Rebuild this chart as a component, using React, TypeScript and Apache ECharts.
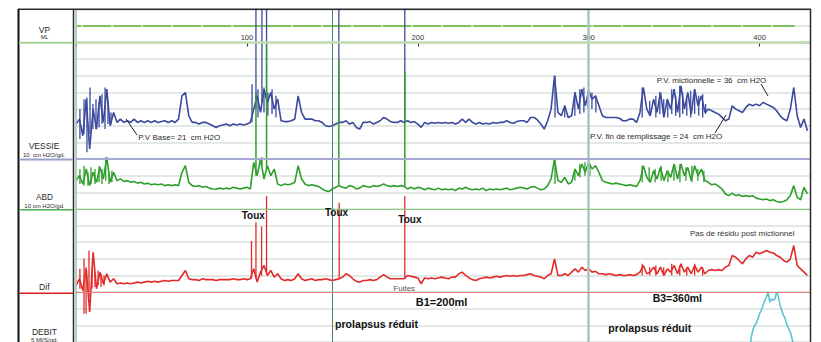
import React, { useEffect, useRef } from 'react';
import * as echarts from 'echarts';

// ---- data ----
const SAMPLE_STEP = 2; // seconds between samples of the pressure traces

// Pression vésicale (cm H2O), one value every 2 units from 0 to 428
const vessie = [
  21, 24, 14, 36, 6, 30, 18, 38, 22, 42,
  20, 28, 22, 24, 22, 23, 22, 24, 22, 23,
  22, 23, 22, 23, 22, 22.5, 23, 22, 23, 22,
  24, 38, 40, 26, 22, 22, 21, 22, 22, 21,
  20, 19, 20, 20.5, 21, 20, 21, 20.5, 21, 20.5,
  21, 22, 30, 38, 28, 42, 34, 40, 30, 36,
  23, 22.5, 22.5, 23, 24, 38, 28, 24, 24, 24,
  23, 23, 22, 20, 19.5, 20, 21, 22, 22, 23,
  21, 22, 19, 18, 22, 22, 22.5, 21, 22, 23,
  25, 24, 22.5, 22, 22, 23, 22, 23, 22, 22.5,
  21, 19, 22, 21, 22, 21.5, 22, 21.5, 22, 21.5,
  22, 21, 22, 24, 22, 24, 22, 21, 22, 21,
  21.5, 21, 22, 21.5, 22, 22, 23, 22, 21.5, 22.5,
  23, 23, 22, 25, 25, 23.5, 21, 18, 23, 30,
  50, 28, 26, 32, 25, 26, 40, 30, 42, 32,
  41, 36, 38, 32, 26, 25, 25, 25, 25, 24.5,
  23, 23, 24, 24, 22, 28, 43, 30, 26, 36,
  28, 40, 25, 36, 30, 42, 28, 44, 30, 40,
  27, 42, 32, 38, 28, 30, 29, 28, 27, 25,
  23, 24, 32, 30, 29, 28, 31, 33, 32, 33,
  32, 34, 33, 32, 31, 29, 26, 24, 23, 30,
  43, 26, 19, 24, 17,
];

// Pression abdominale (cm H2O)
const abd = [
  17, 20, 15, 24, 14, 22, 16, 25, 18, 31,
  16, 22, 17, 18, 16.5, 17, 16, 16.5, 15.5, 16,
  15, 15.5, 14.5, 15, 14.5, 15, 14, 14.5, 14, 14.5,
  14, 22, 26, 16, 14, 13.5, 14, 13, 13.5, 12.5,
  12, 11.8, 12.5, 12, 12.5, 12, 13, 12.5, 12, 12.5,
  13, 12, 28, 20, 30, 18, 26, 20, 24, 15,
  14, 15, 14.5, 15, 16, 26, 18, 15, 14, 14.5,
  14, 13.5, 12, 11, 10.5, 12, 13, 14, 13, 12.5,
  14, 13.5, 12, 12.5, 14, 13.5, 13, 14, 13.5, 14,
  15, 14, 13.5, 14, 13.5, 14, 13.5, 12, 13, 12,
  13, 12.5, 11.5, 12.5, 12, 11.5, 12.5, 11.5, 12, 11.5,
  12, 11, 12.5, 12, 13, 12, 11.5, 12, 11.5, 12.5,
  11, 12, 11.5, 12, 11.5, 12, 12.5, 11.5, 12, 12.5,
  13, 12.5, 12, 13, 13.5, 12.5, 11.5, 12, 14, 18,
  30, 17, 16, 19, 15, 16, 24, 20, 27, 22,
  28, 24, 26, 22, 17, 16, 15.5, 15, 15.5, 15,
  14.5, 14, 14.5, 14, 13.5, 17, 26, 19, 16, 23,
  18, 25, 17, 23, 19, 27, 18, 27, 20, 25,
  17, 26, 20, 24, 17, 16, 14.5, 15, 13.5, 12,
  9, 8, 9.5, 8, 8.5, 7.5, 8, 7.5, 8, 6.5,
  6, 5.5, 6, 5, 5.5, 4.5, 4, 4.5, 5.5, 8,
  14, 7, 5.5, 13, 9,
];

// Pression différentielle (cm H2O)
const dif = [
  4, 8, 1, 14, -12, 24, 2, 12, 5, 11,
  6, 8, 5, 5.5, 5, 5.5, 5, 5.5, 6, 5.5,
  6, 6.5, 6, 6.5, 6, 6.5, 7, 6.5, 7, 7,
  7, 10, 13, 8, 7.5, 7.5, 7, 8, 7.5, 7.5,
  7.5, 7, 7.5, 7.5, 7.5, 7.5, 8, 7.5, 7.5, 8,
  7.5, 8, 14, 6, 12, 16, 10, 13, 9, 11,
  8, 7, 7.5, 7, 8, 11, 8, 7, 7.5, 8,
  7, 7.5, 7.5, 8, 7.5, 7, 7.5, 8, 9, 11,
  10, 8, 6.5, 6, 7, 7, 7.5, 7, 7.5, 9,
  10.5, 9, 8, 8, 8, 8, 8, 10, 9.5, 9,
  8.5, 5, 8.5, 8, 8.5, 8, 8.5, 9, 8.5, 8,
  9, 9, 11, 12, 10, 8.5, 7.5, 7, 8, 8.5,
  9, 8.5, 9, 9.5, 9, 9.5, 10, 9.5, 10, 9.5,
  10, 10, 10.5, 11, 10, 9.5, 9, 8, 10, 11,
  20, 10, 10, 11, 10, 12, 14, 12, 15, 13,
  14, 12, 12.5, 11, 11, 10.5, 11, 10.5, 10, 10.5,
  10, 10, 10.5, 10, 10.5, 12, 16, 11, 12, 15,
  11, 15, 10, 14, 12, 16, 11, 17, 12, 15,
  11, 16, 12, 15, 11, 13, 13.5, 13, 13.5, 13,
  15, 16, 22, 21, 19, 17, 20, 22, 21, 24,
  23, 24, 25, 24, 23.5, 22, 21, 19, 18, 20,
  28, 16, 14, 12, 10,
];

// Dense bursts: vertical strokes (time, low, high) seen in the noisy passages
const vessieBurstTimes = [2.3, 4.7, 6.4, 8.2, 9.9, 11.7, 13.5, 15.2, 17, 18.7, 20.5,
  103, 106.5, 110, 112.3, 114.7, 117,
  280.3, 286, 291.9, 294.8, 297.2, 299.5, 301.9, 304.2,
  331.3, 335.7, 339.3, 341.6, 343.9, 346.3, 348.6, 350.9, 353.3, 355, 357.4, 359.7, 362, 364.4, 366.7, 368.4];
const vessieBurstLow = [12, 15, 4, 15, 18, 18, 19, 21, 18, 21, 21,
  22, 25, 28, 26, 27, 25,
  25, 25, 26, 27, 28, 30, 30, 28,
  25, 26, 25, 27, 26, 25, 27, 26, 25, 27, 26, 25, 27, 26, 25, 27];
const vessieBurstHigh = [30, 36, 37, 43, 33, 36, 34, 39, 43, 35, 28,
  45, 42, 43, 40, 42, 38,
  50, 32, 40, 42, 43, 41, 40, 37,
  43, 35, 38, 40, 36, 34, 42, 38, 44, 40, 36, 41, 42, 38, 39, 33];

const abdBurstTimes = [2.3, 4.7, 7, 8.8, 11.1, 13.5, 15.2, 17.4, 19.3, 21,
  280.3, 291.9, 294.8, 297.8, 300.7,
  331.3, 335.4, 338.9, 342.4, 346.4, 349.9, 353.4, 356.9, 360.4, 363.9, 367.4];
const abdBurstLow = [15, 14, 14, 15, 15, 16, 15, 17, 15, 16,
  15, 17, 19, 20, 20,
  16, 17, 16, 17, 16, 17, 16, 17, 16, 17, 16];
const abdBurstHigh = [24, 26, 22, 25, 24, 26, 24, 31, 22, 23,
  30, 24, 27, 28, 27,
  26, 25, 24, 26, 23, 27, 27, 25, 26, 24, 23];

const difBurstTimes = [2.3, 4.7, 5.9, 7.6, 9.4, 11.1, 12.9, 14.6, 16.4,
  331.3, 335.7, 339.3, 343.9, 348.6, 353.3, 357.4, 362, 366.7];
const difBurstLow = [2, -13, -13, -3, 2, 3, 4, 3, 4,
  10, 10, 10, 10, 10, 10, 10, 10, 10];
const difBurstHigh = [14, 20, 15, 25, 15, 12, 13, 11, 10,
  17, 15, 16, 15, 17, 16, 15, 17, 15];

// Cough peaks (Toux): time, foot and top of each spike
const coughTimes = [105.3, 108.8, 111.5, 153.8, 192.4];
const vessieCoughFoot = [30, 34, 36, 22, 22];
const vessieCoughPeak = [100, 100, 100, 100, 100];
const abdCoughFoot = [20, 26, 24, 14, 13.5];
const abdCoughPeak = [70, 31, 100, 89.7, 82.5];
const difCoughTimes = [102.7, 105.3, 108.6, 111.5, 154, 192.4];
const difCoughFoot = [8, 8, 10, 12, 8, 8];
const difCoughPeak = [30.7, 42, 39.5, 57.7, 53.7, 57.7];

// Débit (ml/s)
const debitTimes = [394, 395, 396, 397, 398, 399, 400, 401, 402, 403, 404, 405, 406, 407,
  408, 409, 410, 411, 412, 413, 414, 415, 416, 417, 418, 419, 420, 421];
const debitFlow = [0, 6, 8.5, 10, 10.5, 12, 13.5, 14.5, 16, 17.5, 18.5, 20, 17, 18,
  17.5, 18, 20, 18.5, 16, 14.5, 13, 12, 10, 9, 8, 6, 4, 0];

// VP (ML) trace: level in divisions, '-' = gap
const vpTimes = [0.5, 420.5, 420.7, 421, 429.5];
const vpLevel: (number | string)[] = [1, 1, '-', 0, 0];

// Event markers (vertical lines)
const eventTimes = [0, 150, 300];

// Time axis
const timeTicks = [100, 200, 300, 400];
const TIME_MAX = 429.5;

const FONT = "'Liberation Sans', Arial, Helvetica, sans-serif";

function strokeData(times: number[], low: number[], high: number[]) {
  const out: any[] = [];
  times.forEach((t, i) => {
    out.push([t, low[i]], [t, high[i]], [t, '-']);
  });
  return out;
}

function txt(text: string, x: number, y: number, size: number, opts: any = {}) {
  const align = opts.align || 'left';
  return {
    type: 'text',
    x,
    y,
    z: 100,
    silent: true,
    style: {
      text,
      font: `${opts.bold ? 'bold ' : ''}${size}px ${FONT}`,
      fill: opts.fill || '#2a2a2a',
      align,
      textAlign: align,
      verticalAlign: 'middle',
      textVerticalAlign: 'middle',
    },
  };
}

function ln(x1: number, y1: number, x2: number, y2: number, stroke: string, w: number) {
  return {
    type: 'line',
    z: 100,
    silent: true,
    shape: { x1, y1, x2, y2 },
    style: { stroke, lineWidth: w },
  };
}

const hiddenAxis = {
  type: 'value',
  axisLine: { show: false },
  axisTick: { show: false },
  axisLabel: { show: false },
  splitLine: { show: false },
};

const BLUE = '#3b4a9e';
const GREEN = '#2f9f2c';
const RED = '#e32a2a';

function buildOption() {
  const trace = (values: number[]) => values.map((v, i) => [i * SAMPLE_STEP, v]);
  const zeroLine = (color: string, width: number) => ({
    silent: true,
    symbol: ['none', 'none'],
    label: { show: false },
    lineStyle: { color, width, type: 'solid' },
    data: [{ yAxis: 0 }],
  });
  const eventStyles = [
    { color: '#9fbfba', width: 1.5 },
    { color: '#4f7f7c', width: 1 },
    { color: '#abc4c3', width: 2.5 },
  ];
  const strokes = (name: string, axis: number, data: any[], color: string, width: number) => ({
    name,
    type: 'line',
    yAxisIndex: axis,
    data,
    symbol: 'none',
    connectNulls: false,
    lineStyle: { color, width },
  });

  return {
    animation: false,
    backgroundColor: '#ffffff',
    textStyle: { fontFamily: FONT },
    grid: { left: 76, top: 9.3, width: 734, height: 334 },
    xAxis: {
      type: 'value',
      min: 0,
      max: TIME_MAX,
      interval: 100,
      position: 'top',
      offset: -19,
      axisLine: { show: false },
      axisTick: { show: true, inside: true, length: 4, lineStyle: { color: '#333', width: 1 } },
      axisLabel: {
        inside: true,
        margin: 5,
        fontSize: 7.5,
        color: '#333',
        formatter: (v: number) => (timeTicks.includes(v) ? String(v) : ''),
      },
      splitLine: { show: false },
    },
    yAxis: [
      { ...hiddenAxis, min: -18, max: 2 }, // VP
      {
        ...hiddenAxis,
        min: -110,
        max: 90,
        interval: 10,
        splitLine: { show: true, lineStyle: { color: '#d7e1de', width: 1.5 } },
      }, // VESSIE
      { ...hiddenAxis, min: -80, max: 120 }, // ABD
      { ...hiddenAxis, min: -30, max: 170 }, // Dif
      { ...hiddenAxis, min: 5, max: 105 }, // DEBIT
    ],
    series: [
      {
        name: 'events',
        type: 'line',
        yAxisIndex: 1,
        data: [[0, -1000]],
        symbol: 'none',
        lineStyle: { opacity: 0 },
        silent: true,
        markLine: {
          silent: true,
          symbol: ['none', 'none'],
          label: { show: false },
          data: eventTimes.map((t, i) => ({
            xAxis: t,
            lineStyle: { ...eventStyles[i], type: 'solid' },
          })),
        },
      },
      {
        name: 'VP',
        type: 'line',
        yAxisIndex: 0,
        data: vpTimes.map((t, i) => [t, vpLevel[i]]),
        symbol: 'none',
        connectNulls: false,
        lineStyle: { color: '#5db530', width: 1.6, type: [28.5, 1.5], dashOffset: 24.4 },
        markLine: zeroLine('#c1ddb3', 2.5),
      },
      {
        name: 'VESSIE',
        type: 'line',
        yAxisIndex: 1,
        data: trace(vessie),
        symbol: 'none',
        lineStyle: { color: BLUE, width: 1.6 },
        markLine: zeroLine('#a6a9d4', 2.2),
      },
      strokes('VESSIE bursts', 1, strokeData(vessieBurstTimes, vessieBurstLow, vessieBurstHigh), BLUE, 1.3),
      {
        name: 'ABD',
        type: 'line',
        yAxisIndex: 2,
        data: trace(abd),
        symbol: 'none',
        lineStyle: { color: GREEN, width: 1.6 },
        markLine: zeroLine('#8bc97b', 1.2),
      },
      strokes('ABD bursts', 2, strokeData(abdBurstTimes, abdBurstLow, abdBurstHigh), GREEN, 1.3),
      {
        name: 'Dif',
        type: 'line',
        yAxisIndex: 3,
        data: trace(dif),
        symbol: 'none',
        lineStyle: { color: RED, width: 1.6 },
        markLine: zeroLine('#e97a7a', 1.2),
      },
      strokes('Dif bursts', 3, strokeData(difBurstTimes, difBurstLow, difBurstHigh), RED, 1.3),
      {
        name: 'DEBIT',
        type: 'line',
        yAxisIndex: 4,
        data: debitTimes.map((t, i) => [t, debitFlow[i]]),
        symbol: 'none',
        lineStyle: { color: '#5cc4d1', width: 1.6 },
      },
      strokes('VESSIE toux', 1, strokeData(coughTimes, vessieCoughFoot, vessieCoughPeak), BLUE, 1.3),
      strokes('ABD toux', 2, strokeData(coughTimes, abdCoughFoot, abdCoughPeak), GREEN, 1.5),
      strokes('Dif toux', 3, strokeData(difCoughTimes, difCoughFoot, difCoughPeak), RED, 1.3),
    ],
    graphic: {
      elements: [
        // frame
        ln(18, 9.3, 811, 9.3, '#2b2b2b', 1.5),
        ln(18.5, 9, 18.5, 342, '#111111', 2),
        ln(73.5, 9, 73.5, 342, '#2b2b2b', 1.5),
        ln(810.5, 9, 810.5, 342, '#2b2b2b', 1.5),
        // channel separators in the label column
        ln(19, 42.7, 73, 42.7, '#a9d39a', 2),
        ln(19, 159.6, 73, 159.6, '#9aa0cc', 2),
        ln(19, 209.7, 73, 209.7, '#4cae4c', 1.5),
        ln(19, 293.2, 73, 293.2, '#e02020', 1.5),
        // channel labels
        txt('VP', 44.5, 30, 8.5, { align: 'center' }),
        txt('ML', 44.5, 37.2, 5.5, { align: 'center' }),
        txt('VESSIE', 44, 146, 8.5, { align: 'center' }),
        txt('10  cm H2O/gd.', 44, 155.2, 6, { align: 'center' }),
        txt('ABD', 44.5, 197.8, 8.2, { align: 'center' }),
        txt('10 cm H2O/gd.', 44.5, 205.6, 6, { align: 'center' }),
        txt('Dif', 44.3, 287, 8.5, { align: 'center' }),
        txt('DEBIT', 44.5, 331.5, 8.5, { align: 'center' }),
        txt('5 Ml/S/gd.', 44.5, 340, 6, { align: 'center' }),
        // annotations
        ln(126, 119, 137, 135, '#222', 1),
        txt('P.V Base= 21  cm H2O', 138.3, 137.3, 8),
        ln(761, 84, 768, 96, '#222', 1),
        txt('P.V. mictionnelle = 36  cm H2O', 656.7, 80, 8),
        ln(715, 133, 726, 115, '#222', 1),
        txt('P.V. fin de remplissage = 24  cm H2O', 590, 136.7, 8),
        txt('Toux', 241.7, 215, 10, { bold: true, fill: '#111' }),
        txt('Toux', 325, 212.7, 10, { bold: true, fill: '#111' }),
        txt('Toux', 398.3, 219, 10, { bold: true, fill: '#111' }),
        txt('Pas de résidu post mictionnel', 690, 233.3, 8, { fill: '#333' }),
        txt('Fuites', 393.3, 288.3, 8, { fill: '#555' }),
        txt('B1=200ml', 415.7, 302.3, 11, { bold: true, fill: '#111' }),
        txt('B3=360ml', 652.7, 298.3, 10.5, { bold: true, fill: '#111' }),
        txt('prolapsus réduit', 335, 324, 10.6, { bold: true, fill: '#111' }),
        txt('prolapsus réduit', 608.3, 327.7, 10.6, { bold: true, fill: '#111' }),
      ],
    },
  };
}

export default function App() {
  const ref = useRef<HTMLDivElement>(null);
  useEffect(() => {
    if (!ref.current) return;
    const chart = echarts.init(ref.current, undefined, { renderer: 'svg' });
    chart.setOption(buildOption() as any);
    return () => {
      chart.dispose();
    };
  }, []);
  return (
    <div
      ref={ref}
      style={{ position: 'fixed', left: 0, top: 0, width: 821, height: 342, background: '#fff' }}
    />
  );
}
